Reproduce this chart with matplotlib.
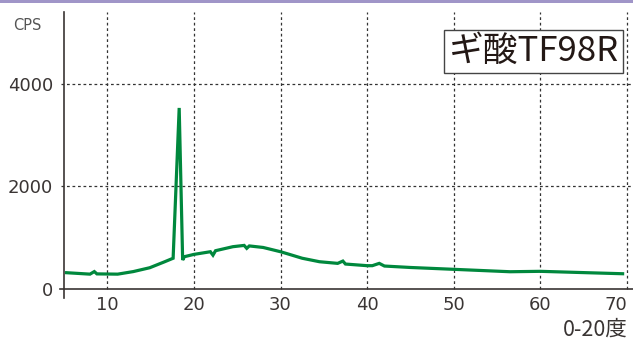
import matplotlib
matplotlib.use("Agg")
import matplotlib.pyplot as plt
from matplotlib.patches import Rectangle

plt.rcParams['font.family'] = ['Noto Sans CJK JP', 'DejaVu Sans']

# 2θ (degrees) and intensity (CPS)
two_theta = [5.3, 8.0, 8.5, 8.8, 11.2, 13.0, 14.9, 16.6, 17.6, 18.3, 18.7, 18.9,
             20.0, 21.9, 22.2, 22.5, 24.5, 25.8, 26.1, 26.4, 28.0, 30.0, 30.9,
             32.5, 34.5, 36.6, 37.2, 37.5, 40.0, 40.6, 41.4, 42.0, 45.0, 50.0,
             56.5, 60.0, 65.4, 69.5]
cps = [318, 290, 340, 295, 290, 340, 415, 530, 600, 3530, 565, 630,
       675, 727, 660, 747, 825, 850, 793, 840, 810, 727, 682,
       600, 532, 500, 545, 487, 455, 455, 500, 448, 420, 384,
       337, 345, 318, 298]

x_ticks = [10, 20, 30, 40, 50, 60, 70]
y_ticks = [0, 2000, 4000]

text_color = "#3a3534"
line_green = "#00883d"

fig = plt.figure(figsize=(6.33, 3.41), dpi=100)
fig.patch.set_facecolor("white")

# thin band along the top edge
fig.add_artist(Rectangle((0, 1 - 3 / 341), 1, 3 / 341, transform=fig.transFigure,
                         facecolor="#a095c8", edgecolor="none"))

ax = fig.add_axes([64 / 633, 43 / 341, 569 / 633, 286 / 341])
ax.set_xlim(5, 70.7)
ax.set_ylim(-175, 5400)

for s in ["top", "right"]:
    ax.spines[s].set_visible(False)
ax.spines["bottom"].set_position(("data", 0))
ax.spines["left"].set_color(text_color)
ax.spines["bottom"].set_color(text_color)
ax.spines["left"].set_linewidth(1.2)
ax.spines["bottom"].set_linewidth(1.2)

for xv in x_ticks:
    ax.plot([xv, xv], [0, 5400], linestyle=(0, (2.2, 2.2)), color="#333333",
            linewidth=0.9, zorder=1)
for yv in y_ticks[1:]:
    ax.plot([4.6, 70.7], [yv, yv], linestyle=(0, (2.2, 2.2)), color="#333333",
            linewidth=0.9, zorder=1, clip_on=False)

ax.plot(two_theta, cps, color=line_green, linewidth=2.3, zorder=3,
        solid_joinstyle="miter")

ax.set_xticks(x_ticks)
ax.set_xticklabels([str(v) for v in x_ticks], fontsize=13, color=text_color,
                   family="DejaVu Sans")
ax.tick_params(axis="x", length=0, pad=5)
# keep the last label inside the canvas
ax.get_xticklabels()[-1].set_horizontalalignment("right")
ax.get_xticklabels()[-1].set_x(70.75)
ax.set_yticks(y_ticks)
ax.set_yticklabels([str(v) for v in y_ticks], fontsize=13, color=text_color,
                   family="DejaVu Sans")
ax.tick_params(axis="y", length=0, pad=8)
ax.plot([4.55, 5], [0, 0], color=text_color, linewidth=1.2, clip_on=False)

fig.text(13 / 633, 1 - 25 / 341, "CPS", fontsize=10.5, color="#555555",
         family="DejaVu Sans", ha="left", va="center")

fig.text(628 / 633, 1 - 330 / 341, "0-20度", fontsize=15.5, color=text_color,
         ha="right", va="center")

ax.text(0.975, 0.862, "ギ酸TF98R", transform=ax.transAxes, fontsize=25,
        color="#231815", ha="right", va="center",
        bbox=dict(boxstyle="square,pad=0.12", facecolor="white",
                  edgecolor="#444444", linewidth=1.0), zorder=5)

fig.savefig("out.png", dpi=100)
